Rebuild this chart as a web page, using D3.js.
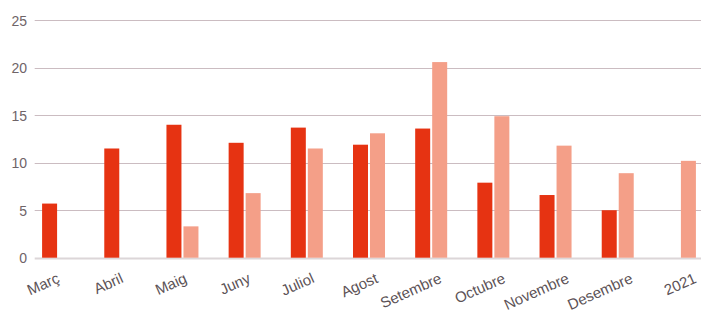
<!DOCTYPE html>
<html>
<head>
<meta charset="utf-8">
<script src="https://cdn.jsdelivr.net/npm/d3@7"></script>
<style>
  body { margin: 0; background: #fff; }
  svg text { font-family: "Liberation Sans", Arial, sans-serif; }
</style>
</head>
<body>
<div id="content"></div>
<script>
// months + the 2021 total
const categories = ["Març", "Abril", "Maig", "Juny", "Juliol", "Agost", "Setembre", "Octubre", "Novembre", "Desembre", "2021"];
const seriesNames = ["prev", "curr"];
const prevValues = [5.7, 11.5, 14.0, 12.1, 13.7, 11.9, 13.6, 7.9, 6.6, 5.0, null];
const currValues = [null, null, 3.3, 6.8, 11.5, 13.1, 20.6, 14.9, 11.8, 8.9, 10.2];
const yTicks = [0, 5, 10, 15, 20, 25];

var width = 701, height = 313;
var colors = { prev: "#e63312", curr: "#f49f88" };

var svg = d3.select("#content").append("svg")
    .attr("width", width)
    .attr("height", height);

var yScale = d3.scaleLinear().domain([0, 25]).range([257.7, 20.3]);
var xScale = d3.scaleBand().domain(categories).range([27, 711]);
var subScale = d3.scaleBand().domain(seriesNames).range([-16, 16]).paddingInner(2 / 17);
// labels sit on a slightly wider spacing than the bars
var labelScale = d3.scalePoint().domain(categories).range([60, 697]);

// grid
var grid = svg.append("g");
yTicks.forEach(function (t) {
    grid.append("line")
        .attr("x1", 34.7).attr("x2", width)
        .attr("y1", Math.round(yScale(t)) + 0.5).attr("y2", Math.round(yScale(t)) + 0.5)
        .attr("stroke", t == 0 ? "#dcd6d8" : "#cbbcc1")
        .attr("stroke-width", t == 0 ? 2 : 1);
});

var yAxis = d3.axisLeft(yScale).tickValues(yTicks).tickSize(0).tickPadding(0);
var yg = svg.append("g").attr("transform", "translate(27,0)").call(yAxis);
yg.select(".domain").remove();
yg.selectAll("text")
    .attr("fill", "#6f6468")
    .style("font-size", "14px")
    .attr("dy", "0.35em");

// bars
var rows = categories.map(function (c, i) {
    return { cat: c, prev: prevValues[i], curr: currValues[i] };
});

var groups = svg.append("g").selectAll("g")
    .data(rows)
    .enter().append("g")
    .attr("transform", function (d) { return "translate(" + (xScale(d.cat) + xScale.bandwidth() / 2) + ",0)"; });

groups.selectAll("rect")
    .data(function (d) {
        return seriesNames.map(function (s) { return { key: s, value: d[s] }; })
            .filter(function (e) { return e.value != null; });
    })
    .enter().append("rect")
    .attr("x", function (d) { return subScale(d.key); })
    .attr("width", subScale.bandwidth())
    .attr("y", function (d) { return yScale(d.value); })
    .attr("height", function (d) { return yScale(0) - yScale(d.value); })
    .attr("fill", function (d) { return colors[d.key]; });

// x labels
var xAxis = d3.axisBottom(labelScale).tickSize(0).tickPadding(0);
var xg = svg.append("g").attr("transform", "translate(0,282)").call(xAxis);
xg.select(".domain").remove();
xg.selectAll("text")
    .attr("fill", "#5c5256")
    .style("font-size", "15px")
    .style("text-anchor", "end")
    .attr("y", 0)
    .attr("dy", 0)
    .attr("transform", "rotate(-24)");
</script>
</body>
</html>
